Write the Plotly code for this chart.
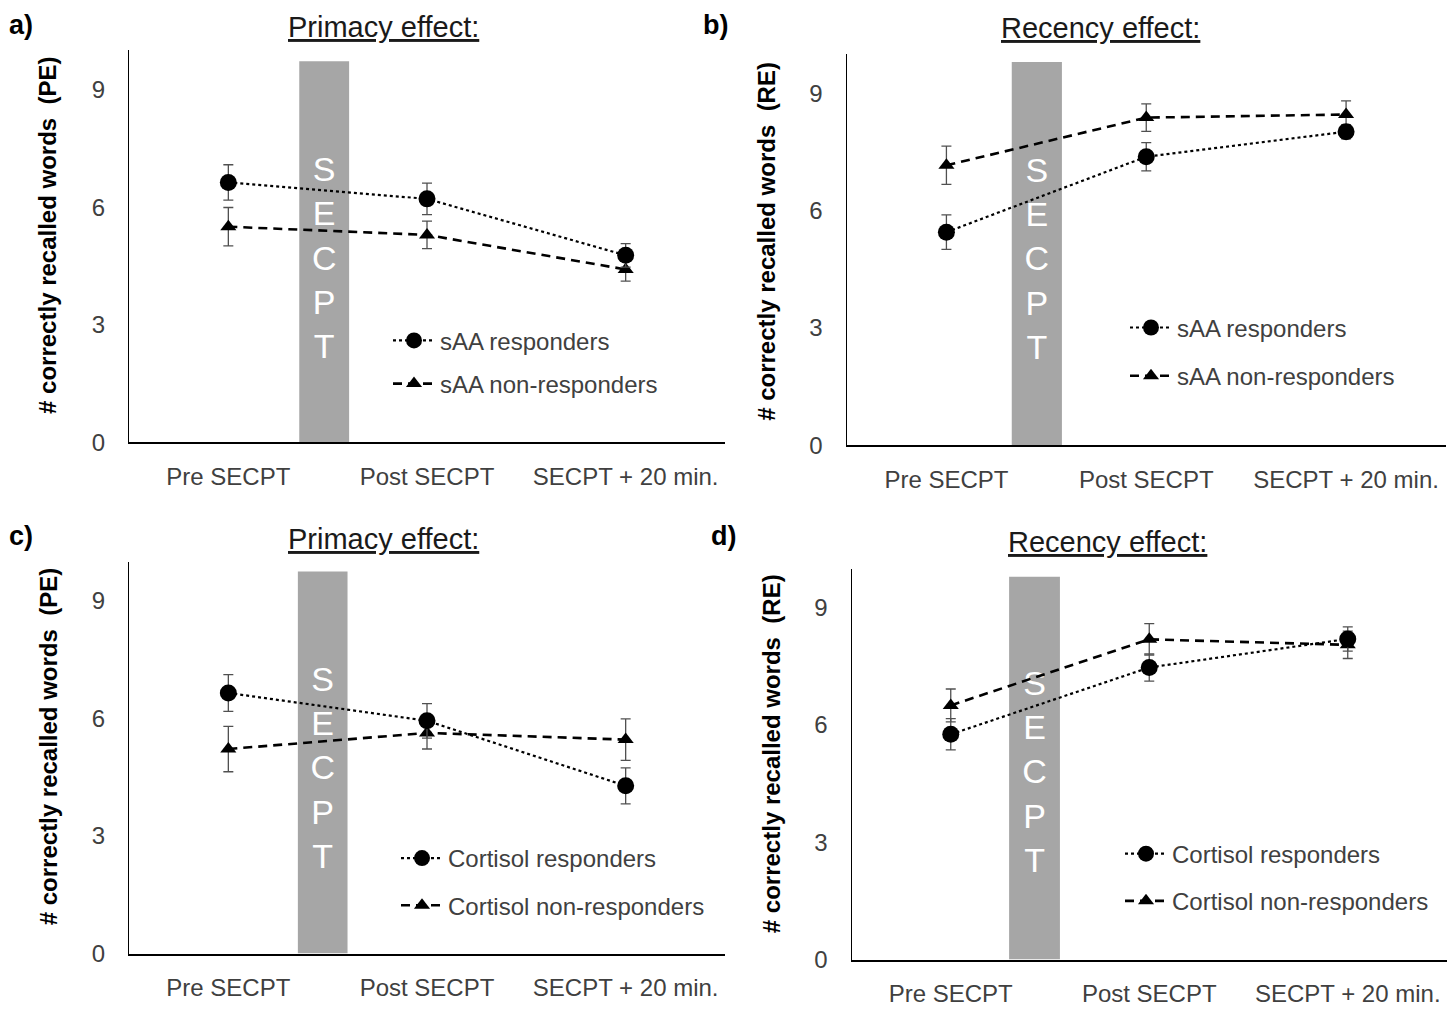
import plotly.graph_objects as go

# ---------------- data ----------------
categories = ["Pre SECPT", "Post SECPT", "SECPT + 20 min."]
y_tick_values = [0, 3, 6, 9]

panel_letters = ["a)", "b)", "c)", "d)"]
panel_titles = ["Primacy effect:", "Recency effect:", "Primacy effect:", "Recency effect:"]
y_titles = ["# correctly recalled words\u00a0 (PE)", "# correctly recalled words\u00a0 (RE)",
            "# correctly recalled words\u00a0 (PE)", "# correctly recalled words\u00a0 (RE)"]
responder_names = ["sAA responders", "sAA responders", "Cortisol responders", "Cortisol responders"]
nonresponder_names = ["sAA non-responders", "sAA non-responders",
                      "Cortisol non-responders", "Cortisol non-responders"]

# panel a: sAA, primacy effect
resp_a = [6.63, 6.21, 4.77]
resp_a_err = [0.45, 0.40, 0.30]
non_a = [5.50, 5.29, 4.41]
non_a_err = [0.49, 0.35, 0.30]
# panel b: sAA, recency effect
resp_b = [5.45, 7.38, 8.02]
resp_b_err = [0.44, 0.36, 0.18]
non_b = [7.16, 8.38, 8.46]
non_b_err = [0.49, 0.35, 0.35]
# panel c: cortisol, primacy effect
resp_c = [6.65, 5.94, 4.28]
resp_c_err = [0.47, 0.44, 0.46]
non_c = [5.22, 5.63, 5.46]
non_c_err = [0.58, 0.41, 0.53]
# panel d: cortisol, recency effect
resp_d = [5.76, 7.47, 8.20]
resp_d_err = [0.40, 0.35, 0.31]
non_d = [6.50, 8.19, 8.05]
non_d_err = [0.42, 0.40, 0.35]

responders = [resp_a, resp_b, resp_c, resp_d]
responders_err = [resp_a_err, resp_b_err, resp_c_err, resp_d_err]
nonresponders = [non_a, non_b, non_c, non_d]
nonresponders_err = [non_a_err, non_b_err, non_c_err, non_d_err]

# SECPT phase (category-axis units, between Pre and Post)
secpt_label = "SECPT"
secpt_start = [0.357, 0.327, 0.350, 0.294]
secpt_end = [0.608, 0.578, 0.600, 0.550]
secpt_top = [9.72, 9.80, 9.75, 9.79]
secpt_text_y = [4.62, 4.69, 4.66, 4.72]

# ---------------- layout geometry (pixels) ----------------
W, H = 1453, 1011
FONT = "Liberation Sans, Arial, sans-serif"
TXT = "#404040"

geo = [
    dict(x0=129, x1=725, ytop=51, ybot=448, letter=(21, 25), title=(383, 27), ytitle=(48, 239),
         leg=(388, 367), gap=9),
    dict(x0=846.5, x1=1446, ytop=55, ybot=451, letter=(715, 25), title=(1100, 28), ytitle=(767, 245),
         leg=(1125, 356.5), gap=14),
    dict(x0=129, x1=725, ytop=569, ybot=966, letter=(21, 543), title=(383, 546), ytitle=(48, 757),
         leg=(396, 893.5), gap=13),
    dict(x0=851.5, x1=1447, ytop=576, ybot=972, letter=(723, 543), title=(1107, 549), ytitle=(771, 764),
         leg=(1120, 889), gap=13),
]


def px(x):
    return x / W


def py(y):
    return 1 - y / H


fig = go.Figure()
annotations = []
layout_axes = {}

for i in range(4):
    g = geo[i]
    sfx = "" if i == 0 else str(i + 1)
    xa, ya = "x" + sfx, "y" + sfx
    legend_name = "legend" + sfx
    xs = list(range(len(categories)))

    # SECPT grey bar
    fig.add_trace(go.Bar(
        x=[(secpt_start[i] + secpt_end[i]) / 2], y=[secpt_top[i]],
        width=[secpt_end[i] - secpt_start[i]],
        marker=dict(color="#a6a6a6", line=dict(width=0)),
        showlegend=False, hoverinfo="skip", xaxis=xa, yaxis=ya,
    ))
    # SECPT vertical text
    fig.add_trace(go.Scatter(
        x=[(secpt_start[i] + secpt_end[i]) / 2], y=[secpt_text_y[i]],
        mode="text", text=["<br>".join(list(secpt_label))],
        textposition="middle center",
        textfont=dict(family=FONT, size=34, color="white"),
        showlegend=False, hoverinfo="skip", xaxis=xa, yaxis=ya,
    ))
    # non-responders (dashed, triangles)
    fig.add_trace(go.Scatter(
        x=xs, y=nonresponders[i], mode="lines+markers",
        name=nonresponder_names[i],
        line=dict(color="black", width=2.6, dash="9px,6px"),
        marker=dict(symbol="triangle-up", size=14, color="black"),
        error_y=dict(type="data", array=nonresponders_err[i], color="#505050", thickness=1.3, width=5),
        legend=legend_name, legendgroup="n" + sfx, legendrank=2,
        xaxis=xa, yaxis=ya,
    ))
    # responders (dotted, circles)
    fig.add_trace(go.Scatter(
        x=xs, y=responders[i], mode="lines+markers",
        name=responder_names[i],
        line=dict(color="black", width=2.2, dash="dot"),
        marker=dict(symbol="circle", size=17, color="black"),
        error_y=dict(type="data", array=responders_err[i], color="#505050", thickness=1.3, width=5),
        legend=legend_name, legendgroup="r" + sfx, legendrank=1,
        xaxis=xa, yaxis=ya,
    ))

    layout_axes["xaxis" + sfx] = dict(
        domain=[px(g["x0"]), px(g["x1"])], anchor=ya, range=[-0.5, 2.5],
        tickvals=xs, ticktext=categories, showline=True, linecolor="black", linewidth=1.6,
        showgrid=False, zeroline=False, ticks="", ticklabelstandoff=12,
        tickfont=dict(family=FONT, size=24, color=TXT), fixedrange=True,
    )
    layout_axes["yaxis" + sfx] = dict(
        domain=[py(g["ybot"]), py(g["ytop"])], anchor=xa, range=[0, 10],
        tickvals=y_tick_values, showline=True, linecolor="black", linewidth=1.4,
        showgrid=False, zeroline=False, ticks="", ticklabelstandoff=18,
        tickfont=dict(family=FONT, size=24, color=TXT), fixedrange=True,
    )
    layout_axes[legend_name] = dict(
        x=px(g["leg"][0]), xanchor="left", y=py(g["leg"][1]), yanchor="middle",
        bgcolor="rgba(0,0,0,0)", borderwidth=0, itemwidth=42, tracegroupgap=g["gap"],
        font=dict(family=FONT, size=24, color=TXT), traceorder="grouped",
    )

    annotations.append(dict(
        text="<b>" + panel_letters[i] + "</b>", x=px(g["letter"][0]), y=py(g["letter"][1]),
        xref="paper", yref="paper", showarrow=False, xanchor="center", yanchor="middle",
        font=dict(family=FONT, size=27, color="black"),
    ))
    annotations.append(dict(
        text="<u>" + panel_titles[i] + "</u>", x=px(g["title"][0]), y=py(g["title"][1]),
        xref="paper", yref="paper", showarrow=False, xanchor="center", yanchor="middle",
        font=dict(family=FONT, size=29, color="#1a1a1a"),
    ))
    annotations.append(dict(
        text="<b>" + y_titles[i] + "</b>", x=px(g["ytitle"][0]), y=py(g["ytitle"][1]),
        xref="paper", yref="paper", showarrow=False, xanchor="center", yanchor="middle",
        textangle=-90, font=dict(family=FONT, size=24, color="black"),
    ))

fig.update_layout(
    width=W, height=H, margin=dict(l=0, r=0, t=0, b=0),
    paper_bgcolor="white", plot_bgcolor="white",
    showlegend=True, barmode="overlay",
    annotations=annotations,
    **layout_axes,
)

fig.write_html("out.html", config={"displayModeBar": False},
               post_script="document.body.style.margin='0';document.body.style.overflow='hidden';")
